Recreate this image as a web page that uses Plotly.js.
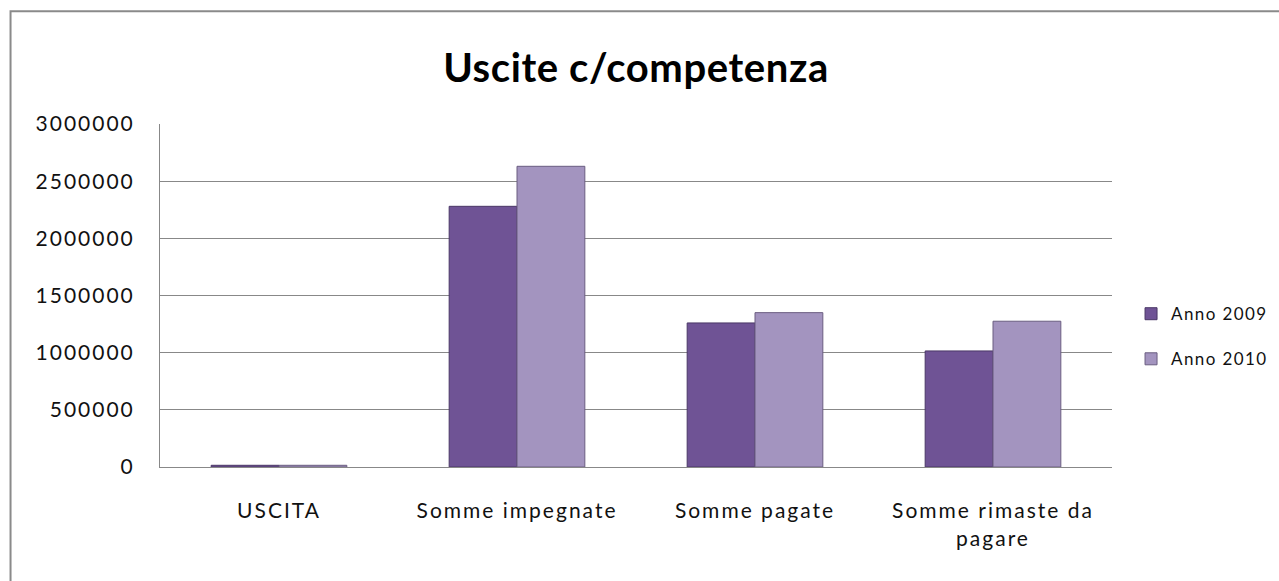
<!DOCTYPE html>
<html>
<head>
<meta charset="utf-8">
<script src="https://cdn.plot.ly/plotly-3.0.1.min.js"></script>
<style>
html,body{margin:0;padding:0;background:#fff;}
#chart{width:1279px;height:581px;}
#chart .xtick text, #chart .ytick text{letter-spacing:2px;}
.legendtext{letter-spacing:1.4px;}
#chart .gtitle{letter-spacing:0.6px;}
</style>
</head>
<body>
<div id="chart"></div>
<script>
const categories = ["USCITA", "Somme impegnate", "Somme pagate", "Somme rimaste da<br>pagare"];
const anno2009 = [15000, 2280000, 1260000, 1015000];
const anno2010 = [15000, 2630000, 1350000, 1275000];
const yTicks = [0, 500000, 1000000, 1500000, 2000000, 2500000, 3000000];
const yTickLabels = ["0", "500000", "1000000", "1500000", "2000000", "2500000", "3000000"];

const font = "Lato, 'Open Sans', sans-serif";
const data = [
  {type: "bar", name: "Anno 2009", x: categories, y: anno2009, legendgroup: "a",
   marker: {color: "#6f5395", line: {color: "#4a3766", width: 1}}},
  {type: "bar", name: "Anno 2010", x: categories, y: anno2010, legendgroup: "b",
   marker: {color: "#a394bf", line: {color: "#6a5d80", width: 1}}}
];
const layout = {
  width: 1279, height: 581,
  margin: {l: 160, r: 167, t: 124, b: 114, autoexpand: false},
  paper_bgcolor: "#fff", plot_bgcolor: "#fff",
  font: {family: font, size: 21, color: "#000"},
  title: {text: "<b>Uscite c/competenza</b>", font: {family: font, size: 40, color: "#000"},
          x: 0.5, xref: "paper", xanchor: "center", y: 0.883, yref: "container", yanchor: "middle"},
  barmode: "group", bargap: 0.43, bargroupgap: 0,
  xaxis: {type: "category", showline: true, linecolor: "#888", linewidth: 1, showgrid: false,
          ticks: "", tickfont: {family: font, size: 21, color: "#111"}, ticklabelstandoff: 25},
  yaxis: {range: [0, 3000000], tickvals: yTicks, ticktext: yTickLabels, showline: true, linecolor: "#888",
          linewidth: 1, showgrid: true, gridcolor: "#888", gridwidth: 1, zeroline: false,
          ticks: "", tickfont: {family: font, size: 21, color: "#111"}, ticklabelstandoff: 20},
  legend: {x: 1.02, xanchor: "left", y: 0.38, yanchor: "middle", font: {family: font, size: 17, color: "#111"},
           itemwidth: 30, traceorder: "grouped", tracegroupgap: 20, bgcolor: "rgba(0,0,0,0)"},
  shapes: [{type: "rect", xref: "paper", yref: "paper", x0: -0.157, x1: 1.2, y0: -0.4, y1: 1.329,
            line: {color: "#8a8a8a", width: 2}, layer: "below"}]
};
Plotly.newPlot("chart", data, layout, {displayModeBar: false, staticPlot: true});
</script>
</body>
</html>
